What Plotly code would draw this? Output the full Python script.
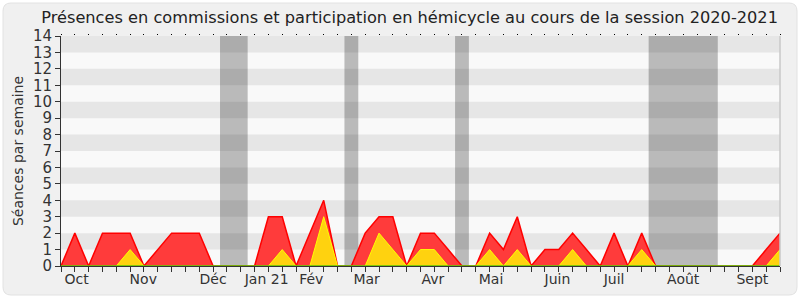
import plotly.graph_objects as go

weeks = list(range(53))
commissions_total = [0, 2, 0, 2, 2, 2, 0, 1, 2, 2, 2, 0, 0, 0, 0, 3, 3, 0, 2, 4,
                     0, 0, 2, 3, 3, 0, 2, 2, 1, 0, 0, 2, 1, 3, 0, 1, 1, 2, 1, 0,
                     2, 0, 2, 0, 0, 0, 0, 0, 0, 0, 0, 1, 2]
hemicycle = [0, 0, 0, 0, 0, 1, 0, 0, 0, 0, 0, 0, 0, 0, 0, 0, 1, 0, 0, 3,
             0, 0, 0, 2, 1, 0, 1, 1, 0, 0, 0, 1, 0, 1, 0, 0, 0, 1, 0, 0,
             0, 0, 1, 0, 0, 0, 0, 0, 0, 0, 0, 0, 1]
questions = [0] * 53
vacations = [(11.5, 13.5), (20.5, 21.5), (28.5, 29.5), (42.5, 47.5)]
month_pos = [1.13, 5.95, 11.0, 14.87, 18.1, 22.1, 26.9, 31.1, 35.9, 40.0, 45.0, 50.0]
month_labels = ["Oct", "Nov", "Déc", "Jan 21", "Fév", "Mar", "Avr", "Mai", "Juin", "Juil", "Août", "Sept"]

W, H = 800, 300
L, R, T, B = 61, 20, 36, 34
pw, ph = W - L - R, H - T - B

def px(x):
    return (x - L) / pw

def py(y):
    return (H - B - y) / ph

FONT = "DejaVu Sans"
fig = go.Figure()
fig.add_trace(go.Scatter(x=weeks, y=commissions_total, mode="lines", fill="tozeroy",
                         line=dict(color="#ff0000", width=1.5), fillcolor="#ff3b3b",
                         hoverinfo="skip", showlegend=False))
fig.add_trace(go.Scatter(x=weeks, y=hemicycle, mode="lines", fill="tozeroy",
                         line=dict(color="#ffff00", width=1), fillcolor="#ffd20f",
                         hoverinfo="skip", showlegend=False))
fig.add_trace(go.Scatter(x=weeks, y=questions, mode="lines",
                         line=dict(color="#00c000", width=1),
                         hoverinfo="skip", showlegend=False))
fig.add_trace(go.Scatter(x=[0, 52], y=[0, 0], xaxis="x2", mode="lines",
                         line=dict(width=0), hoverinfo="skip", showlegend=False))

shapes = []
# rounded panel
x0, x1, y0, y1, r = 3, 797, 3, 295, 8
path = (f"M {px(x0+r)} {py(y0)} L {px(x1-r)} {py(y0)} Q {px(x1)} {py(y0)} {px(x1)} {py(y0+r)} "
        f"L {px(x1)} {py(y1-r)} Q {px(x1)} {py(y1)} {px(x1-r)} {py(y1)} "
        f"L {px(x0+r)} {py(y1)} Q {px(x0)} {py(y1)} {px(x0)} {py(y1-r)} "
        f"L {px(x0)} {py(y0+r)} Q {px(x0)} {py(y0)} {px(x0+r)} {py(y0)} Z")
shapes.append(dict(type="path", path=path, xref="paper", yref="paper", layer="below",
                   fillcolor="#f0f0f0", line=dict(color="#e2e2e2", width=1)))
shapes.append(dict(type="rect", xref="x", yref="y", x0=0, x1=52, y0=0, y1=14,
                   fillcolor="#f9f9f9", line=dict(width=0), layer="below"))
for k in range(1, 14, 2):
    shapes.append(dict(type="rect", xref="x", yref="y", x0=0, x1=52, y0=k, y1=k + 1,
                       fillcolor="#e6e6e6", line=dict(width=0), layer="below"))
for a, b in vacations:
    shapes.append(dict(type="rect", xref="x", yref="y", x0=a, x1=b, y0=0, y1=14,
                       fillcolor="rgba(0,0,0,0.25)", line=dict(width=0), layer="below"))
shapes.append(dict(type="line", xref="paper", yref="paper", x0=1, x1=1, y0=0, y1=1,
                   line=dict(color="#c8c8c8", width=1.5)))

fig.update_layout(
    width=W, height=H,
    margin=dict(l=L, r=R, t=T, b=B),
    paper_bgcolor="white", plot_bgcolor="#f9f9f9",
    shapes=shapes,
    title=dict(text="Présences en commissions et participation en hémicycle au cours de la session 2020-2021",
               x=0.512, xanchor="center", y=0.962, yanchor="top",
               font=dict(family=FONT, size=16.2, color="#222")),
    xaxis=dict(range=[0, 52], tickmode="array", tickvals=month_pos, ticktext=month_labels,
               ticks="", showgrid=False, zeroline=False, showline=True, linecolor="#333",
               linewidth=1, tickfont=dict(family=FONT, size=14, color="#333"),
               minor=dict(tickmode="array", tickvals=weeks, ticks="outside", ticklen=5,
                          tickcolor="#333", tickwidth=1, showgrid=False)),
    xaxis2=dict(range=[0, 52], overlaying="x", side="top", anchor="y", tickmode="array",
                tickvals=weeks, ticks="outside", ticklen=1, tickcolor="#000",
                showticklabels=False, showgrid=False, zeroline=False, showline=False),
    yaxis=dict(range=[0, 14], tickmode="linear", tick0=0, dtick=1, ticks="outside",
               ticklen=5, tickcolor="#333", showgrid=False, zeroline=False, showline=True,
               linecolor="#333", linewidth=1,
               tickfont=dict(family=FONT, size=15, color="#333"),
               title=dict(text="Séances par semaine", standoff=6,
                          font=dict(family=FONT, size=14, color="#333"))),
)
fig.write_html("out.html")
